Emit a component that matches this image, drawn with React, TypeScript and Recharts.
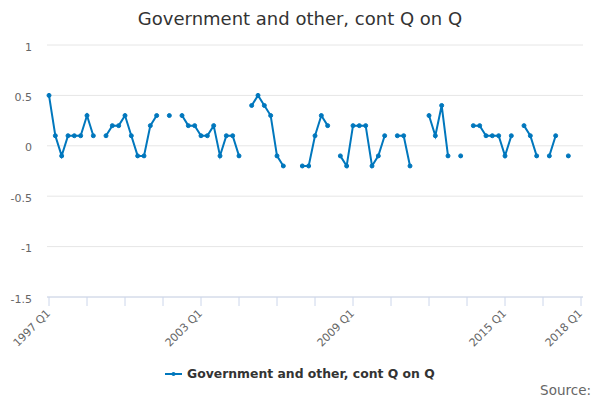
import { LineChart, Line, XAxis, YAxis, CartesianGrid } from "recharts";

const title = "Government and other, cont Q on Q";
const seriesName = "Government and other, cont Q on Q";
const startYear = 1997;

// quarterly values, 1997 Q1 .. 2018 Q1 (null = no point)
const values: (number | null)[] = [
  0.5, 0.1, -0.1, 0.1, 0.1, 0.1, 0.3, 0.1,
  null, 0.1, 0.2, 0.2, 0.3, 0.1, -0.1, -0.1,
  0.2, 0.3, null, 0.3, null, 0.3, 0.2, 0.2,
  0.1, 0.1, 0.2, -0.1, 0.1, 0.1, -0.1, null,
  0.4, 0.5, 0.4, 0.3, -0.1, -0.2, null, null,
  -0.2, -0.2, 0.1, 0.3, 0.2, null, -0.1, -0.2,
  0.2, 0.2, 0.2, -0.2, -0.1, 0.1, null, 0.1,
  0.1, -0.2, null, null, 0.3, 0.1, 0.4, -0.1,
  null, -0.1, null, 0.2, 0.2, 0.1, 0.1, 0.1,
  -0.1, 0.1, null, 0.2, 0.1, -0.1, null, -0.1,
  0.1, null, -0.1, null, null,
];

const quarters = values.map(
  (_, i) => `${startYear + Math.floor(i / 4)} Q${(i % 4) + 1}`
);
const labelledQuarters = ["1997 Q1", "2003 Q1", "2009 Q1", "2015 Q1", "2018 Q1"];
const yTicks = [-1.5, -1, -0.5, 0, 0.5, 1];

const data = values.map((v, i) => ({ i, quarter: quarters[i], value: v }));
const xTicks = data.filter((d) => d.i % 6 === 0).map((d) => d.i);

const blue = "#0077bd";
const font = "DejaVu Sans";

function XTick({ x, y, payload }: any) {
  const label = quarters[payload.value];
  if (!labelledQuarters.includes(label)) return <g />;
  const ax = x + 2;
  const ay = y + 8;
  return (
    <text
      x={ax}
      y={ay}
      transform={`rotate(-45 ${ax} ${ay})`}
      textAnchor="end"
      fontSize={11}
      fill="#666"
      fontFamily={font}
    >
      {label}
    </text>
  );
}

function YTick({ x, y, payload }: any) {
  return (
    <text x={x} y={y + 5.5} textAnchor="end" fontSize={11} fill="#666" fontFamily={font}>
      {payload.value}
    </text>
  );
}

export default function App() {
  return (
    <div
      style={{
        position: "absolute",
        left: 0,
        top: 0,
        width: 600,
        height: 400,
        background: "#fff",
        fontFamily: font,
      }}
    >
      <div
        style={{
          position: "absolute",
          top: 8,
          width: 600,
          textAlign: "center",
          fontSize: 18,
          color: "#333",
        }}
      >
        {title}
      </div>
      <LineChart
        width={600}
        height={400}
        data={data}
        margin={{ top: 45, right: 17, bottom: 43, left: 0 }}
      >
        <CartesianGrid vertical={false} stroke="#e6e6e6" />
        <XAxis
          type="number"
          dataKey="i"
          domain={[0, values.length - 1]}
          ticks={xTicks}
          interval={0}
          padding={{ left: 2, right: 2 }}
          height={60}
          tickSize={9}
          tickMargin={0}
          stroke="#ccd6eb"
          tickLine={{ stroke: "#ccd6eb" }}
          axisLine={{ stroke: "#ccd6eb" }}
          tick={<XTick />}
        />
        <YAxis
          domain={[-1.5, 1]}
          ticks={yTicks}
          interval={0}
          width={47}
          tickSize={8}
          tickMargin={7}
          tickLine={false}
          axisLine={false}
          tick={<YTick />}
        />
        <Line
          type="linear"
          dataKey="value"
          stroke={blue}
          strokeWidth={2}
          dot={{ r: 2, fill: blue, stroke: blue, strokeWidth: 1 }}
          activeDot={false}
          isAnimationActive={false}
        />
      </LineChart>
      <div
        style={{
          position: "absolute",
          left: 165,
          top: 366,
          display: "flex",
          alignItems: "center",
          fontSize: 12.4,
          fontWeight: "bold",
          color: "#333",
          whiteSpace: "nowrap",
        }}
      >
        <svg width={17} height={10} style={{ marginRight: 5 }}>
          <line x1={0} y1={5} x2={17} y2={5} stroke={blue} strokeWidth={2} />
          <circle cx={8.5} cy={5} r={2} fill={blue} />
        </svg>
        <span>{seriesName}</span>
      </div>
      <div
        style={{
          position: "absolute",
          right: 9,
          top: 382,
          fontSize: 13.5,
          color: "#666",
        }}
      >
        Source:
      </div>
    </div>
  );
}
